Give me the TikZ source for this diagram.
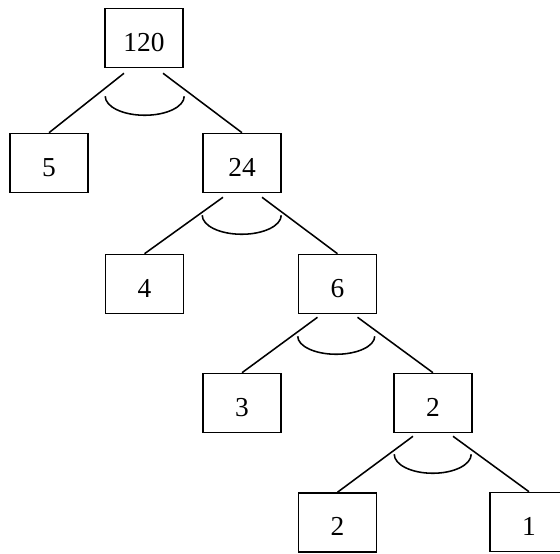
\documentclass[tikz,border=0pt]{standalone}
\usepackage{fontspec}
\setmainfont{Liberation Serif}
\usetikzlibrary{calc}
\tikzset{
  numbox/.style={
    rectangle, draw, line width=1.1pt, minimum width=19.5mm, minimum height=14.75mm,
    inner sep=0pt, text height=6.6mm, text depth=0pt, font=\fontsize{19.5}{23}\selectfont
  },
  branch/.style={line width=1.1pt},
  andarc/.style={line width=1.1pt}
}

\begin{document}
\begin{tikzpicture}[x=0.25mm, y=0.25mm]
  \useasboundingbox (0,0) rectangle (560,553);

  % Values
  \node[numbox] (n120) at (144,515) {120};
  \node[numbox] (n5) at (49,390) {5};
  \node[numbox] (n24) at (242,390) {24};
  \node[numbox] (n4) at (144.5,269) {4};
  \node[numbox] (n6) at (337.5,269) {6};
  \node[numbox] (n3) at (242,150) {3};
  \node[numbox] (n2a) at (433,150) {2};
  \node[numbox] (n2b) at (337.5,30.5) {2};
  \node[numbox] (n1) at (529,31) {1};

  % Branches
  \draw[branch] ($(n120.south)+(-20,-5)$) -- (n5.north);
  \draw[branch] ($(n120.south)+(19,-5)$) -- (n24.north);
  \draw[branch] ($(n24.south)+(-19,-4)$) -- (n4.north);
  \draw[branch] ($(n24.south)+(20,-4)$) -- (n6.north);
  \draw[branch] ($(n6.south)+(-20,-3)$) -- (n3.north);
  \draw[branch] ($(n6.south)+(20,-3)$) -- (n2a.north);
  \draw[branch] ($(n2a.south)+(-20,-3)$) -- (n2b.north);
  \draw[branch] ($(n2a.south)+(20,-3)$) -- (n1.north);

  % Product arcs
  \draw[andarc] ($(n120.south west)+(1,-28)$) arc[start angle=180, end angle=360, x radius=39.5, y radius=19];
  \draw[andarc] ($(n24.south west)+(0,-22)$) arc[start angle=180, end angle=360, x radius=39.5, y radius=19];
  \draw[andarc] ($(n6.south west)+(0,-22)$) arc[start angle=180, end angle=360, x radius=38.5, y radius=18];
  \draw[andarc] ($(n2a.south west)+(1,-21)$) arc[start angle=180, end angle=360, x radius=38.5, y radius=19];
\end{tikzpicture}
\end{document}
